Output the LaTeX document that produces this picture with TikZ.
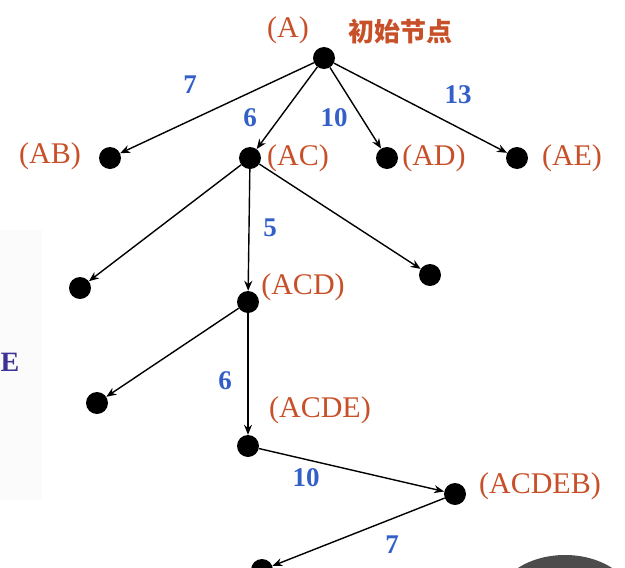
\documentclass[tikz,border=0pt]{standalone}
\usepackage{fontspec}
\setmainfont{Liberation Serif}
\newfontfamily\cjk{Noto Sans CJK SC}
\usetikzlibrary{arrows.meta}
\definecolor{lab}{RGB}{200,80,40}
\definecolor{wt}{RGB}{50,95,200}
\begin{document}
\begin{tikzpicture}[x=1pt,y=-1pt,
  dot/.style={circle,fill=black,inner sep=0pt,minimum size=22pt},
  lbl/.style={text=lab,font=\fontsize{30}{32}\selectfont},
  wgt/.style={text=wt,font=\bfseries\fontsize{27}{30}\selectfont},
  edge/.style={-{Stealth[length=10pt,width=8pt]},line width=1.4pt}]
\clip (0,0) rectangle (625,568);
\fill[white] (0,0) rectangle (625,568);
\fill[black!1.5] (0,230) rectangle (42,500);
\node[text={rgb,255:red,60;green,50;blue,150},font=\bfseries\fontsize{28}{30}\selectfont] (E) at (10,362) {E};
\fill[black!70] (565,605) ellipse (70pt and 50pt);
\node[dot] (A) at (324,58) {};
\node[dot] (AB) at (110,158) {};
\node[dot] (AC) at (250,158) {};
\node[dot] (AD) at (387,158) {};
\node[dot] (AE) at (517,158) {};
\node[dot] (c1) at (80,288) {};
\node[dot] (ACD) at (248,302) {};
\node[dot] (c2) at (430,275) {};
\node[dot] (c3) at (97,403) {};
\node[dot] (ACDE) at (248,446) {};
\node[dot] (ACDEB) at (455,494) {};
\node[dot] (last) at (262,570) {};
\node[lbl] (lA) at (288,30) {(A)};
\node[text=lab,font=\cjk\bfseries\fontsize{26}{28}\selectfont] (init) at (400,32) {初始节点};
\node[lbl] (lAB) at (50,156) {(AB)};
\node[lbl] (lAC) at (298,158) {(AC)};
\node[lbl] (lAD) at (434,158) {(AD)};
\node[lbl] (lAE) at (572,158) {(AE)};
\node[lbl] (lACD) at (303,287) {(ACD)};
\node[lbl] (lACDE) at (320,410) {(ACDE)};
\node[lbl] (lACDEB) at (540,486) {(ACDEB)};
\node[wgt] (w1) at (190,85) {7};
\node[wgt] (w2) at (250,118) {6};
\node[wgt] (w3) at (334,118) {10};
\node[wgt] (w4) at (458,95) {13};
\node[wgt] (w5) at (270,228) {5};
\node[wgt] (w6) at (225,381) {6};
\node[wgt] (w7) at (306,478) {10};
\node[wgt] (w8) at (392,545) {7};
\draw[edge] (A) -- (AB);
\draw[edge] (A) -- (AC);
\draw[edge] (A) -- (AD);
\draw[edge] (A) -- (AE);
\draw[edge] (AC) -- (c1);
\draw[edge] (AC) -- (ACD);
\draw[edge] (AC) -- (c2);
\draw[edge] (ACD) -- (c3);
\draw[edge] (ACD) -- (ACDE);
\draw[edge] (ACDE) -- (ACDEB);
\draw[edge] (ACDEB) -- (last);
\end{tikzpicture}
\end{document}
